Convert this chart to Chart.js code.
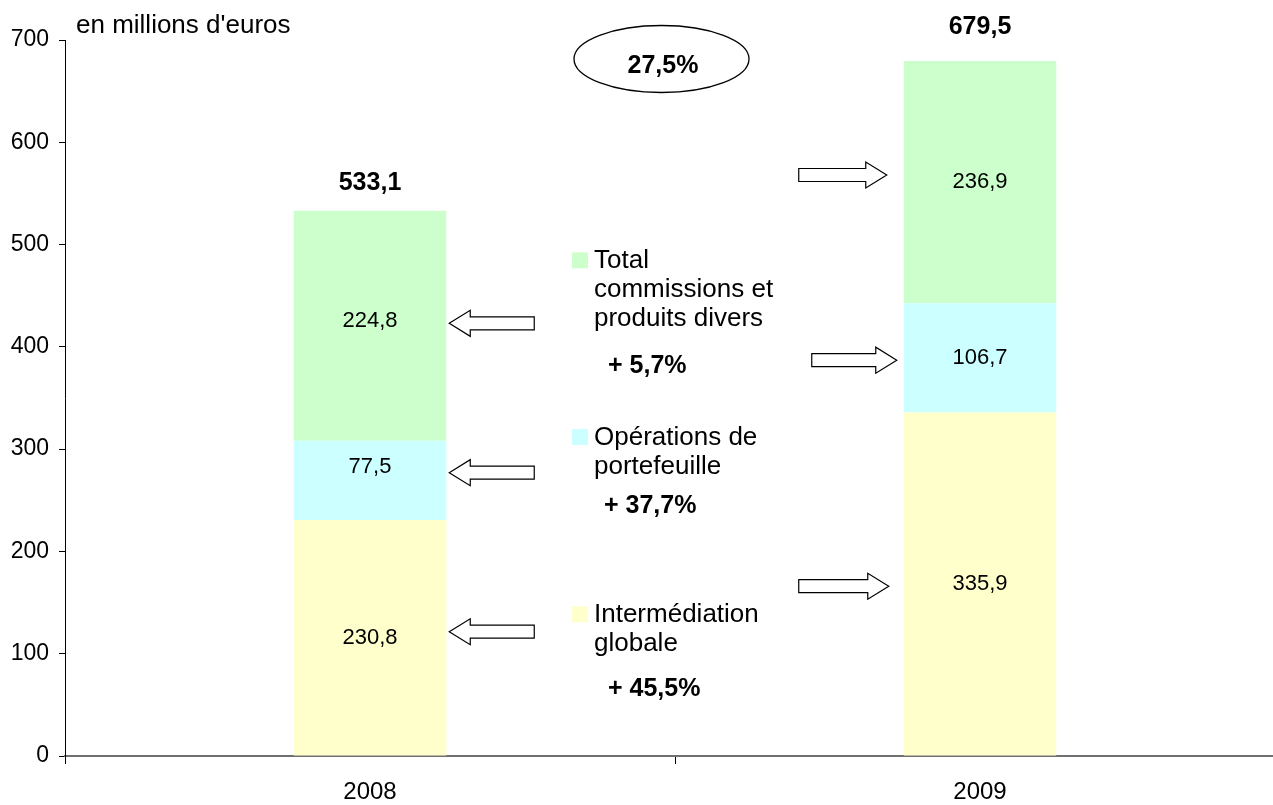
<!DOCTYPE html>
<html>
<head>
<meta charset="utf-8">
<script src="https://cdn.jsdelivr.net/npm/chart.js@4.4.0/dist/chart.umd.min.js"></script>
<style>
  html, body { margin: 0; padding: 0; background: #fff; overflow: hidden; }
  #wrap { width: 1290px; height: 805px; }
</style>
</head>
<body>
<div id="wrap"><canvas id="chart" width="1290" height="805"></canvas></div>
<script>
"use strict";

// données (en millions d'euros)
const years = ['2008', '2009'];
const intermediation = [230.8, 335.9];
const operations = [77.5, 106.7];
const commissions = [224.8, 236.9];
const seriesNames = ['Intermédiation globale', 'Opérations de portefeuille', 'Total commissions et produits divers'];
const legendLines = [['Intermédiation', 'globale'], ['Opérations de', 'portefeuille'], ['Total', 'commissions et', 'produits divers']];
const growthLabels = ['+ 45,5%', '+ 37,7%', '+ 5,7%'];
const totalGrowth = '27,5%';
const yTicks = [0, 100, 200, 300, 400, 500, 600, 700];
const unitLabel = "en millions d'euros";

const colors = ['#FFFFCC', '#CCFFFF', '#CCFFCC'];
const FONT = '"Liberation Sans", Arial, sans-serif';

const fmt = v => v.toFixed(1).replace('.', ',');

function drawArrow(ctx, tipX, y, len, dir) {
  // dir = -1 : vers la gauche, +1 : vers la droite
  const hl = 21, hh = 13, bh = 6.5;
  const px = dx => tipX - dir * dx;
  ctx.beginPath();
  ctx.moveTo(px(0), y);
  ctx.lineTo(px(hl), y - hh);
  ctx.lineTo(px(hl), y - bh);
  ctx.lineTo(px(len), y - bh);
  ctx.lineTo(px(len), y + bh);
  ctx.lineTo(px(hl), y + bh);
  ctx.lineTo(px(hl), y + hh);
  ctx.closePath();
  ctx.fillStyle = '#fff';
  ctx.fill();
  ctx.lineWidth = 1.2;
  ctx.strokeStyle = '#000';
  ctx.stroke();
}

const annotations = {
  id: 'annotations',
  afterDatasetsDraw(chart) {
    const ctx = chart.ctx;
    const x = chart.scales.x, y = chart.scales.y;
    const area = chart.chartArea;
    const mid = x.getPixelForValue(0.5);
    ctx.save();
    ctx.fillStyle = '#000';

    // valeurs dans les barres
    const shift = { '2-0': -5, '1-0': -13 };
    ctx.font = '22px ' + FONT;
    ctx.textAlign = 'center';
    ctx.textBaseline = 'middle';
    chart.data.datasets.forEach((ds, di) => {
      chart.getDatasetMeta(di).data.forEach((el, i) => {
        const cy = (el.y + el.base) / 2 + (shift[di + '-' + i] || 0);
        ctx.fillText(fmt(ds.data[i]), el.x, cy);
      });
    });

    // totaux
    const top = chart.getDatasetMeta(2).data;
    const totOff = [21, 27];
    ctx.font = 'bold 25px ' + FONT;
    ctx.textBaseline = 'alphabetic';
    years.forEach((yr, i) => {
      const tot = intermediation[i] + operations[i] + commissions[i];
      ctx.fillText(fmt(tot), top[i].x, top[i].y - totOff[i]);
    });

    // ellipse de croissance totale
    ctx.beginPath();
    ctx.ellipse(mid - 13.5, area.top + 19, 87.5, 33.5, 0, 0, Math.PI * 2);
    ctx.lineWidth = 1.3;
    ctx.strokeStyle = '#000';
    ctx.stroke();
    ctx.fillText(totalGrowth, mid - 12, area.top + 33);

    // unité
    ctx.font = '26px ' + FONT;
    ctx.textAlign = 'left';
    ctx.fillText(unitLabel, area.left + 11, area.top - 7);

    // flèches
    const bar08 = top[0], bar09 = top[1];
    const right08 = bar08.x + bar08.width / 2;
    const left09 = bar09.x - bar09.width / 2;
    [423, 277, 121.5].forEach(v => drawArrow(ctx, right08 + 3, y.getPixelForValue(v), 85, -1));
    drawArrow(ctx, left09 - 17, y.getPixelForValue(568), 88, 1);
    drawArrow(ctx, left09 - 7, y.getPixelForValue(387), 85, 1);
    drawArrow(ctx, left09 - 15, y.getPixelForValue(166), 90, 1);

    // légende au centre
    const legX = mid - 103;
    const legTop = [622.3, 445, 268.3];
    const pctY = [696, 513.3, 373.3];
    const pctX = [608, 604, 608];
    ctx.textAlign = 'left';
    ctx.textBaseline = 'alphabetic';
    legendLines.forEach((lines, k) => {
      ctx.fillStyle = colors[k];
      ctx.fillRect(legX, legTop[k] - 16, 16, 16);
      ctx.fillStyle = '#000';
      ctx.font = '26px ' + FONT;
      lines.forEach((t, j) => ctx.fillText(t, legX + 22, legTop[k] + j * 29));
      ctx.font = 'bold 25px ' + FONT;
      ctx.fillText(growthLabels[k], pctX[k], pctY[k]);
    });
    ctx.restore();
  }
};

new Chart(document.getElementById('chart'), {
  type: 'bar',
  data: {
    labels: years,
    datasets: [
      { label: seriesNames[0], data: intermediation, backgroundColor: colors[0] },
      { label: seriesNames[1], data: operations, backgroundColor: colors[1] },
      { label: seriesNames[2], data: commissions, backgroundColor: colors[2] }
    ]
  },
  options: {
    responsive: false,
    animation: false,
    devicePixelRatio: 1,
    layout: { padding: { top: 40, right: 5, left: 0, bottom: 0 } },
    datasets: { bar: { barPercentage: 0.25, categoryPercentage: 1, borderWidth: 0 } },
    plugins: { legend: { display: false }, tooltip: { enabled: false } },
    scales: {
      x: {
        stacked: true,
        offset: true,
        afterFit: s => { s.height = 49; },
        grid: { offset: true, drawOnChartArea: false, tickLength: 8, color: '#000', lineWidth: 1 },
        border: { color: '#707070', width: 2 },
        ticks: { color: '#000', font: { family: FONT, size: 24 }, padding: 14 }
      },
      y: {
        stacked: true,
        min: 0,
        max: 700,
        afterFit: s => { s.width = 65; },
        afterBuildTicks: s => { s.ticks = yTicks.map(v => ({ value: v })); },
        grid: { drawOnChartArea: false, tickLength: 6, color: '#000', lineWidth: 1 },
        border: { color: '#000', width: 1 },
        ticks: { color: '#000', font: { family: FONT, size: 23 }, padding: 10 }
      }
    }
  },
  plugins: [annotations]
});
</script>
</body>
</html>
